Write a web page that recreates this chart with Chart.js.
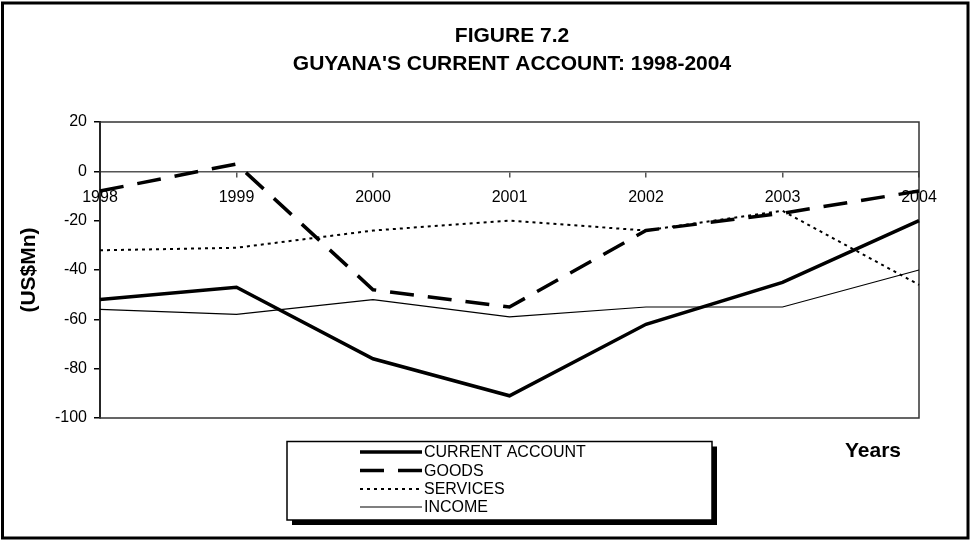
<!DOCTYPE html>
<html>
<head>
<meta charset="utf-8">
<script src="https://cdn.jsdelivr.net/npm/chart.js@4.4.1/dist/chart.umd.min.js"></script>
<style>
  html, body { margin:0; padding:0; background:#fff; }
  canvas { display:block; }
</style>
</head>
<body>
<canvas id="chart" width="972" height="540"></canvas>
<script>
/* Guyana current account, 1998-2004 (US$Mn) */
const years          = ['1998','1999','2000','2001','2002','2003','2004'];
const currentAccount = [-52, -47, -76, -91, -62, -45, -20];
const goods          = [-8, 3, -48, -55, -24, -17, -8];
const services       = [-32, -31, -24, -20, -24, -16, -46];
const income         = [-56, -58, -52, -59, -55, -55, -40];

const FONT = '"Liberation Sans", Arial, sans-serif';

// frame, titles, plot box and the boxed legend with its drop shadow
const decor = {
  id: 'decor',
  beforeDraw(chart) {
    const c = chart.ctx;
    c.save();
    c.fillStyle = '#fff';
    c.fillRect(0, 0, chart.width, chart.height);
    c.restore();
  },
  beforeDatasetsDraw(chart) {
    const c = chart.ctx, a = chart.chartArea;
    c.save();
    c.strokeStyle = '#333';
    c.lineWidth = 1.5;
    c.strokeRect(a.left, a.top, a.right - a.left, a.bottom - a.top);
    c.restore();
  },
  afterDraw(chart) {
    const c = chart.ctx;
    c.save();
    // outer frame
    c.strokeStyle = '#000';
    c.lineWidth = 3;
    c.strokeRect(2.5, 3, 965.5, 535);

    // titles
    c.fillStyle = '#000';
    c.textAlign = 'center';
    c.textBaseline = 'middle';
    c.font = 'bold 21px ' + FONT;
    c.fillText('FIGURE 7.2', 512, 36);
    c.fillText("GUYANA'S CURRENT ACCOUNT: 1998-2004", 512, 64);
    c.fillText('Years', 873, 451);

    c.save();
    c.translate(29, 270);
    c.rotate(-Math.PI / 2);
    c.fillText('(US$Mn)', 0, 0);
    c.restore();

    // legend box
    const lx = 287, ly = 441.5, lw = 425, lh = 78.5;
    c.fillStyle = '#000';
    c.fillRect(lx + 5, ly + 5, lw, lh);
    c.fillStyle = '#fff';
    c.fillRect(lx, ly, lw, lh);
    c.lineWidth = 1.5;
    c.strokeStyle = '#000';
    c.strokeRect(lx, ly, lw, lh);

    c.font = '16px ' + FONT;
    c.textAlign = 'left';
    const rows = [452, 470.5, 489, 507];
    chart.data.datasets.forEach((ds, i) => {
      const y = rows[i];
      c.beginPath();
      c.setLineDash(ds.borderDash || []);
      c.lineWidth = ds.borderWidth;
      c.strokeStyle = ds.borderColor;
      c.moveTo(360, y);
      c.lineTo(422, y);
      c.stroke();
      c.setLineDash([]);
      c.fillStyle = '#000';
      c.fillText(ds.label, 424, y + 1);
    });
    c.restore();
  }
};

new Chart(document.getElementById('chart'), {
  type: 'line',
  data: {
    labels: years,
    datasets: [
      { label:'CURRENT ACCOUNT', data:currentAccount, borderColor:'#000', borderWidth:3.5, borderDash:[] },
      { label:'GOODS',           data:goods,          borderColor:'#000', borderWidth:3.5, borderDash:[24,14] },
      { label:'SERVICES',        data:services,       borderColor:'#000', borderWidth:2,   borderDash:[3,4] },
      { label:'INCOME',          data:income,         borderColor:'#000', borderWidth:1.2, borderDash:[] }
    ]
  },
  options: {
    responsive:false,
    animation:false,
    layout:{ padding:{ left:0, top:122, right:53, bottom:122 } },
    elements:{ point:{ radius:0 }, line:{ tension:0, fill:false } },
    plugins:{ legend:{ display:false }, title:{ display:false }, tooltip:{ enabled:false } },
    scales:{
      x:{
        type:'category',
        offset:false,
        position:{ y:0 },
        grid:{ drawOnChartArea:false, tickLength:5, color:'#555', lineWidth:1.5 },
        border:{ color:'#555', width:1.5 },
        ticks:{ color:'#000', font:{ family:FONT, size:16 }, padding:12, maxRotation:0, autoSkip:false },
        afterFit(s){ s.height = 0; }
      },
      y:{
        min:-100, max:20,
        ticks:{ stepSize:20, color:'#000', font:{ family:FONT, size:16 }, padding:7 },
        grid:{ drawOnChartArea:false, tickLength:6, color:'#000', lineWidth:1.5 },
        border:{ color:'#000', width:2 },
        afterFit(s){ s.width = 100; }
      }
    }
  },
  plugins:[decor]
});
</script>
</body>
</html>
